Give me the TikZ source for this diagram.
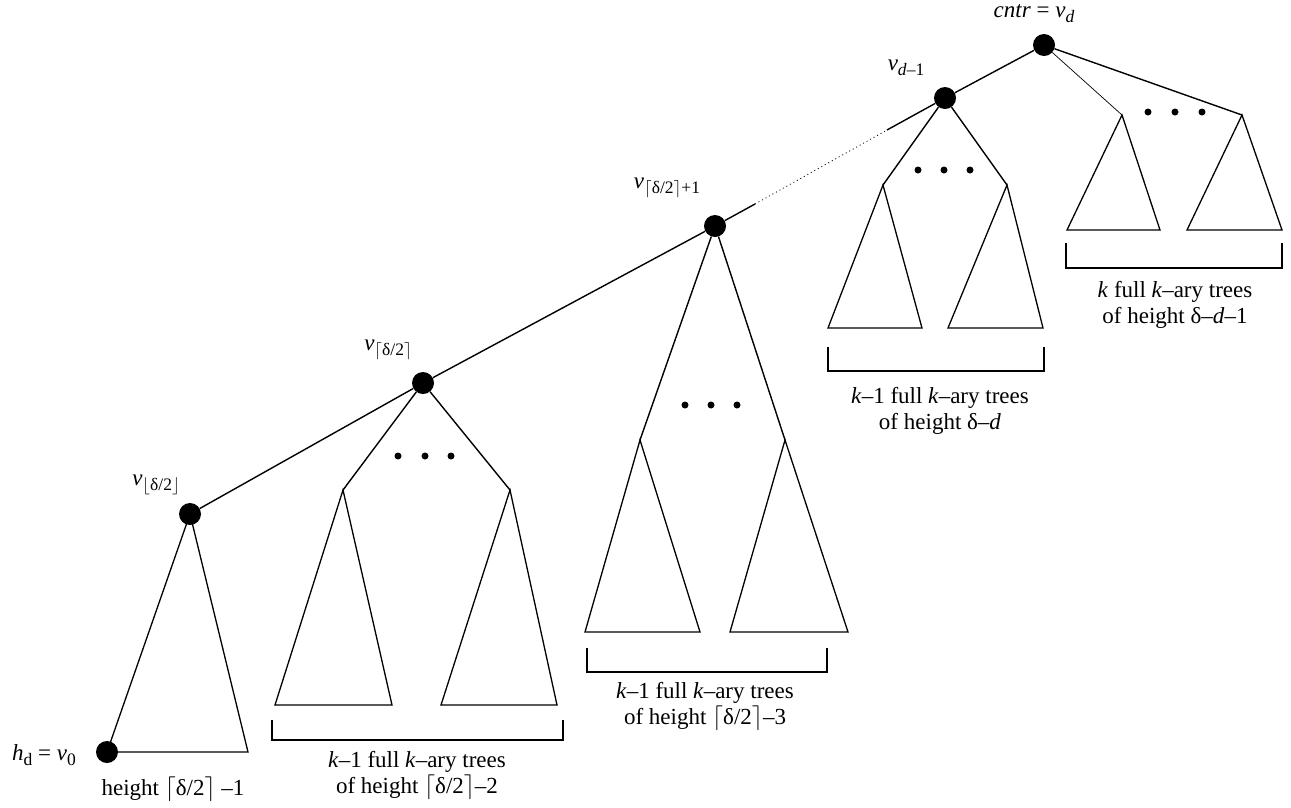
\documentclass[tikz,border=0pt]{standalone}
\usepackage{fontspec}
\setmainfont{Liberation Serif}
\usepackage{tikz}

% lowered, smaller index text
\newcommand{\sbs}[1]{\raisebox{-5pt}{\fontsize{17.5}{17.5}\selectfont #1}}

\begin{document}
\begin{tikzpicture}[
    x=1pt, y=-1pt,
    vtx/.style={circle, fill=black, inner sep=0pt, minimum size=22pt},
    pt/.style={circle, fill=black, inner sep=0pt, minimum size=7pt},
    lbl/.style={font=\fontsize{23}{26}\selectfont, inner sep=0pt, align=center},
    edge/.style={line width=1.4pt},
    tri/.style={line width=1.3pt, line join=miter},
    brk/.style={line width=2.4pt},
  ]
  \useasboundingbox (0,0) rectangle (1291,807);

  % ── path vertices ──────────────────────────────────
  \node[vtx] (vd)  at (1044, 45) {};
  \node[vtx] (vd1) at ( 945, 98) {};
  \node[vtx] (vc1) at ( 715,226) {};
  \node[vtx] (vcl) at ( 423,383) {};
  \node[vtx] (vfl) at ( 190,514) {};
  \node[vtx] (v0)  at ( 107,752) {};

  \node[lbl] (lvd)  at (1034, 14) {\textit{cntr} = \textit{v}\sbs{\textit{d}}};
  \node[lbl] (lvd1) at ( 906, 68) {\textit{v}\sbs{\textit{d}–1}};
  \node[lbl] (lvc1) at ( 667,188) {\textit{v}\sbs{$\lceil$δ/2$\rceil$+1}};
  \node[lbl] (lvcl) at ( 388,350) {\textit{v}\sbs{$\lceil$δ/2$\rceil$}};
  \node[lbl] (lvfl) at ( 156,485) {\textit{v}\sbs{$\lfloor$δ/2$\rfloor$}};
  \node[lbl] (lv0)  at (  44,755) {\textit{h}\sbs{d} = \textit{v}\sbs{0}};

  \coordinate (s1) at (755,204);
  \coordinate (s2) at (887,130);
  \draw[edge] (vfl) -- (vcl) -- (vc1) -- (s1);
  \draw[line width=0.8pt, dash pattern=on 1pt off 3pt] (s1) -- (s2);
  \draw[edge] (s2) -- (vd1) -- (vd);

  % ── subtree of v_floor ─────────────────────────────
  \coordinate (b0) at (248,752);
  \draw[tri] (vfl.center) -- (v0.center) -- (b0) -- cycle;
  \node[lbl] (h0) at (173,789) {height $\lceil$δ/2$\rceil$ –1};

  % ── subtrees of v_ceil ─────────────────────────────
  \coordinate (a1) at (343,490);
  \coordinate (a2) at (510,490);
  \draw[edge] (a1) -- (vcl) -- (a2);
  \draw[tri] (a1) -- (275,705) -- (392,705) -- cycle;
  \draw[tri] (a2) -- (441,705) -- (557,705) -- cycle;
  \foreach \x in {398,425,451}
    \node[pt] (p1-\x) at (\x,456) {};
  \draw[brk] (272,720) -- (272,740) -- (563,740) -- (563,720);
  \node[lbl] (h1) at (417,775) {\textit{k}–1 full \textit{k}–ary trees\\of height $\lceil$δ/2$\rceil$–2};

  % ── subtrees of v_ceil+1 ───────────────────────────
  \coordinate (a3) at (640,440);
  \coordinate (a4) at (785,440);
  \draw[edge] (a3) -- (vc1) -- (a4);
  \draw[tri] (a3) -- (585,632) -- (700,632) -- cycle;
  \draw[tri] (a4) -- (730,632) -- (848,632) -- cycle;
  \foreach \x in {685,711,737}
    \node[pt] (p2-\x) at (\x,405) {};
  \draw[brk] (587,648) -- (587,672) -- (827,672) -- (827,648);
  \node[lbl] (h2) at (705,706) {\textit{k}–1 full \textit{k}–ary trees\\of height $\lceil$δ/2$\rceil$–3};

  % ── subtrees of v_d-1 ──────────────────────────────
  \coordinate (a5) at (883,185);
  \coordinate (a6) at (1007,185);
  \draw[edge] (a5) -- (vd1) -- (a6);
  \draw[tri] (a5) -- (828,328) -- (922,328) -- cycle;
  \draw[tri] (a6) -- (948,328) -- (1043,328) -- cycle;
  \foreach \x in {918,944,970}
    \node[pt] (p3-\x) at (\x,170) {};
  \draw[brk] (828,347) -- (828,371) -- (1044,371) -- (1044,347);
  \node[lbl] (h3) at (940,411) {\textit{k}–1 full \textit{k}–ary trees\\of height δ–\textit{d}};

  % ── subtrees of cntr ───────────────────────────────
  \coordinate (a7) at (1122,115);
  \coordinate (a8) at (1242,115);
  \draw[line width=0.7pt] (vd) -- (a7);
  \draw[edge] (vd) -- (a8);
  \draw[tri] (a7) -- (1067,230) -- (1160,230) -- cycle;
  \draw[tri] (a8) -- (1187,230) -- (1282,230) -- cycle;
  \foreach \x in {1148,1175,1202}
    \node[pt] (p4-\x) at (\x,112) {};
  \draw[brk] (1066,243) -- (1066,268) -- (1282,268) -- (1282,243);
  \node[lbl] (h4) at (1175,305) {\textit{k} full \textit{k}–ary trees\\of height δ–\textit{d}–1};

\end{tikzpicture}
\end{document}
